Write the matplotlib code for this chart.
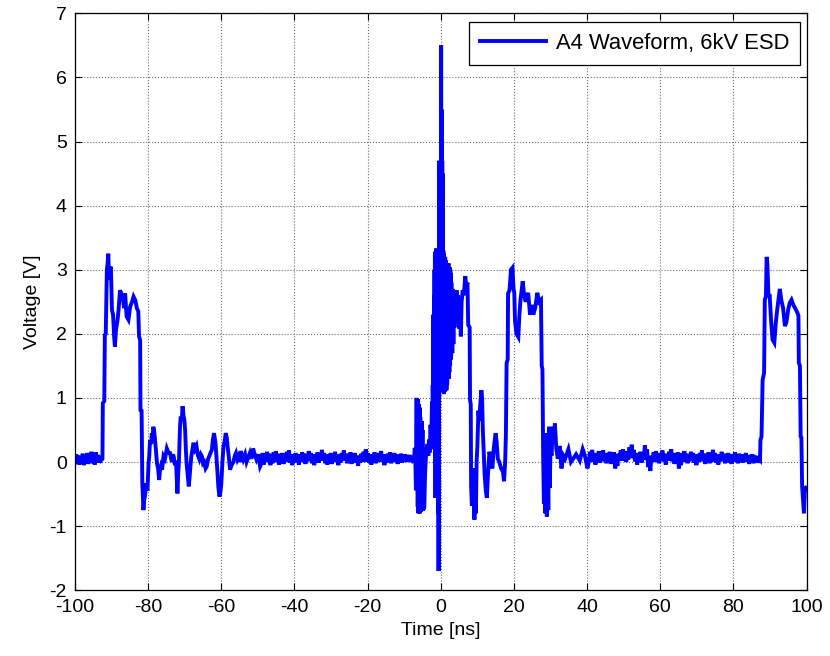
import numpy as np
import matplotlib
matplotlib.use("Agg")
import matplotlib.pyplot as plt

plt.rcParams['font.family'] = ['Liberation Sans', 'DejaVu Sans']
plt.rcParams['axes.unicode_minus'] = False

# ---- waveform data (time in ns, voltage in V) ----
# quiet lead-in, sampled every 0.3 ns from -100 ns
lead_start = -100.0
lead_step = 0.3
lead_v = [-0.01, 0.12, -0.02, 0.10, -0.04, 0.08, 0.00, 0.13, -0.05, 0.09,
          0.00, 0.14, -0.03, 0.11, 0.01, 0.16, -0.02, 0.12, -0.04, 0.15,
          0.02, 0.11, -0.01, 0.09, 0.03]

# first pulse
pulse1_t = [-92.5, -92.4, -92.0, -91.85, -91.6, -91.3, -91.1, -90.9, -90.7, -90.5,
            -90.2, -89.9, -89.6, -89.3, -89.1, -88.8, -88.4, -88.1, -87.7, -87.3,
            -86.9, -86.6, -86.3, -85.9, -85.4, -84.9, -84.4, -84.0, -83.5, -83.1,
            -82.7, -82.5, -82.2, -82.1, -81.8, -81.6, -81.3, -81.1, -80.9]
pulse1_v = [0.05, 0.92, 0.95, 1.98, 2.00, 2.99, 3.10, 3.25, 2.84, 3.00,
            3.05, 2.37, 2.30, 1.95, 1.80, 2.06, 2.20, 2.37, 2.68, 2.62,
            2.55, 2.40, 2.63, 2.27, 2.22, 2.43, 2.50, 2.58, 2.52, 2.40,
            2.35, 1.96, 1.90, 0.81, 0.80, -0.33, -0.75, -0.60, -0.54]

# ringing after the first pulse
ring1_t = [-80.5, -80.2, -79.9, -79.7, -79.5, -79.2, -79.0, -78.8, -78.6, -78.4,
           -78.2, -77.9, -77.6, -77.3, -77.0, -76.8, -76.5, -76.2, -75.8, -75.4,
           -74.9, -74.5, -74.0, -73.7, -73.5, -73.2, -73.0, -72.7, -72.4, -72.2,
           -72.0, -71.8, -71.6, -71.3, -71.1, -70.8, -70.6, -70.3, -70.1, -69.9,
           -69.7, -69.5, -69.2, -68.9, -68.7, -68.5, -68.2, -67.9, -67.6, -67.2,
           -66.8, -66.4, -66.0, -65.6, -65.3, -65.0, -64.7, -64.3, -64.0, -63.6,
           -63.3, -62.9, -62.6, -62.3, -62.0, -61.8, -61.6, -61.3, -61.1, -60.8,
           -60.5, -60.2, -60.0, -59.7, -59.4, -59.1, -58.8, -58.5, -58.3, -57.9,
           -57.6, -57.2, -56.7, -56.3, -56.0, -55.6, -55.3, -55.0, -54.7, -54.3,
           -54.0, -53.5, -53.1, -52.6, -52.2, -51.8, -51.3, -50.8, -50.4, -49.9,
           -49.4]
ring1_v = [-0.33, -0.45, -0.02, 0.10, 0.34, 0.28, 0.45, 0.38, 0.55, 0.50,
           0.39, 0.20, -0.02, -0.10, -0.28, -0.15, -0.07, -0.12, 0.09, 0.05,
           0.21, 0.15, 0.14, 0.05, 0.00, 0.12, 0.08, -0.05, 0.02, -0.25,
           -0.49, -0.20, 0.00, 0.55, 0.71, 0.65, 0.87, 0.71, 0.65, 0.50,
           0.20, -0.02, -0.20, -0.38, -0.25, -0.10, 0.09, 0.20, 0.30, 0.20,
           0.25, 0.10, 0.04, 0.12, 0.09, -0.02, 0.00, -0.10, -0.07, 0.05,
           0.09, 0.15, 0.19, 0.35, 0.45, 0.38, 0.30, 0.05, -0.12, -0.40,
           -0.54, -0.45, -0.33, 0.00, 0.25, 0.32, 0.45, 0.38, 0.25, 0.05,
           -0.12, -0.05, 0.00, 0.10, 0.14, 0.04, 0.08, 0.00, 0.17, 0.10,
           0.04, 0.12, 0.00, 0.08, 0.14, 0.05, 0.21, 0.10, 0.04, 0.12,
           -0.07]

# quiet stretch before the discharge, sampled every 0.3 ns
quiet1_start = -49.0
quiet1_step = 0.3
quiet1_v = [-0.02, 0.14, -0.04, 0.12, 0.00, 0.16, 0.01, 0.13, -0.05, 0.10,
            -0.02, 0.15, 0.02, 0.17, 0.00, 0.11, -0.04, 0.13, 0.01, 0.14,
            -0.03, 0.11, 0.00, 0.16, 0.03, 0.18, -0.01, 0.12, -0.05, 0.09,
            -0.01, 0.14, 0.01, 0.12, -0.04, 0.11, 0.00, 0.15, 0.02, 0.13,
            -0.03, 0.10, 0.01, 0.17, 0.04, 0.14, -0.02, 0.12, -0.05, 0.11,
            0.00, 0.15, -0.01, 0.13, 0.02, 0.19, 0.03, 0.14, -0.02, 0.10,
            -0.04, 0.12, 0.01, 0.14, -0.03, 0.11, 0.00, 0.16, 0.01, 0.12,
            -0.05, 0.09, -0.01, 0.14, 0.03, 0.18, 0.02, 0.13, -0.02, 0.11,
            0.00, 0.15, -0.03, 0.12, 0.01, 0.14, -0.01, 0.10, -0.06, 0.09,
            -0.01, 0.13, 0.02, 0.16, 0.00, 0.20, 0.04, 0.14, -0.01, 0.11,
            -0.04, 0.12, 0.01, 0.15, -0.02, 0.11, 0.00, 0.14, 0.02, 0.17,
            0.00, 0.12, -0.05, 0.10, -0.01, 0.13, 0.01, 0.15, -0.02, 0.11,
            0.00, 0.14, 0.02, 0.12, -0.03, 0.10, 0.00, 0.13, -0.01, 0.11,
            0.01, 0.12, 0.00, 0.10, 0.02, 0.11, 0.00, 0.09, 0.03]

# ESD burst, second pulse and ringing
burst_t = [-7.3, -7.1, -6.9, -6.8, -6.7, -6.6, -6.5, -6.4, -6.3, -6.2,
           -6.1, -6.0, -5.9, -5.8, -5.7, -5.6, -5.5, -5.4, -5.3, -5.2,
           -5.1, -5.0, -4.9, -4.8, -4.7, -4.5, -4.3, -4.1, -3.9, -3.6,
           -3.4, -3.2, -3.0, -2.8, -2.6, -2.4, -2.3, -2.2, -2.1, -2.0,
           -1.95, -1.9, -1.85, -1.8, -1.75, -1.7, -1.65, -1.6, -1.55, -1.5,
           -1.45, -1.4, -1.35, -1.3, -1.25, -1.2, -1.15, -1.1, -1.05, -1.0,
           -0.95, -0.9, -0.85, -0.8, -0.75, -0.7, -0.65, -0.6, -0.55, -0.5,
           -0.45, -0.4, -0.35, -0.3, -0.25, -0.2, -0.15, -0.1, -0.05, 0.0,
           0.05, 0.1, 0.15, 0.2, 0.25, 0.3, 0.35, 0.4, 0.45, 0.5,
           0.55, 0.6, 0.65, 0.7, 0.75, 0.8, 0.85, 0.9, 0.95, 1.0,
           1.05, 1.1, 1.15, 1.2, 1.25, 1.3, 1.35, 1.4, 1.45, 1.5,
           1.55, 1.6, 1.65, 1.7, 1.75, 1.8, 1.85, 1.9, 1.95, 2.0,
           2.05, 2.1, 2.15, 2.2, 2.25, 2.3, 2.35, 2.4, 2.45, 2.5,
           2.55, 2.6, 2.65, 2.7, 2.75, 2.8, 2.85, 2.9, 2.95, 3.0,
           3.15, 3.3, 3.45, 3.6, 3.75, 3.9, 4.1, 4.3, 4.5, 4.7,
           4.9, 5.1, 5.3, 5.5, 5.7, 6.0, 6.3, 6.7, 7.0, 7.3,
           7.5, 7.9, 8.0, 8.2, 8.3, 8.5, 8.7, 8.8, 9.0, 9.2,
           9.4, 9.6, 9.8, 10.0, 10.3, 10.5, 10.8, 11.1, 11.3, 11.5,
           11.8, 12.0, 12.3, 12.6, 12.9, 13.3, 13.7, 14.1, 14.5, 15.0,
           15.3, 15.6, 16.0, 16.5, 17.0, 17.3, 17.6, 17.8, 18.0, 18.3,
           18.4, 18.8, 19.2, 19.6, 19.9, 20.1, 20.3, 20.7, 21.2, 21.5,
           21.8, 22.4, 22.8, 23.2, 23.9, 24.4, 24.9, 25.3, 25.8, 26.4,
           26.9, 27.4, 27.6, 27.8, 28.0, 28.2, 28.4, 28.6, 28.8, 29.0,
           29.2, 29.4, 29.6, 29.8, 30.0, 30.3, 30.6, 30.9, 31.2, 31.6,
           32.0, 32.5, 33.0, 33.5, 34.0, 34.9, 35.6, 36.2, 37.0, 38.0,
           38.8, 39.4, 40.1]
burst_v = [0.05, 0.22, -0.10, -0.44, 0.30, 1.00, -0.20, 0.95, -0.70, 0.98,
           -0.80, 0.90, -0.75, 0.85, -0.80, 0.70, -0.78, 0.30, -0.70, 0.64,
           -0.74, 0.50, -0.76, 0.20, -0.74, -0.70, -0.20, 0.04, 0.20, 0.28,
           0.10, 0.35, 0.15, 0.58, 0.30, 0.94, 0.20, 1.20, 0.40, 2.30,
           0.60, 2.00, 0.30, 2.60, 0.90, 3.00, 0.50, 3.28, 0.20, 2.90,
           -0.56, 3.10, 0.00, 3.33, 0.40, 3.20, -0.30, 2.80, 0.20, 3.00,
           -0.50, 2.40, 0.00, 2.00, -0.80, 1.50, -0.30, -1.70, 0.80, 3.30,
           1.00, 4.70, 1.50, 4.20, 2.00, 4.40, 1.60, 3.80, 2.20, 4.47,
           2.80, 6.50, 3.00, 5.50, 2.00, 4.00, 1.50, 4.70, 1.30, 4.50,
           1.24, 3.50, 1.10, 3.30, 1.20, 3.20, 1.06, 3.25, 1.15, 3.15,
           1.30, 3.10, 1.10, 3.20, 1.25, 3.00, 1.12, 3.15, 1.30, 3.05,
           1.12, 3.10, 1.40, 3.00, 1.20, 3.05, 1.50, 3.10, 1.30, 2.95,
           1.45, 3.10, 1.30, 2.90, 1.60, 3.00, 1.40, 3.04, 1.55, 2.90,
           1.50, 3.00, 1.70, 2.85, 1.60, 2.95, 1.66, 2.80, 1.75, 2.70,
           1.70, 2.70, 1.84, 2.60, 2.10, 2.56, 2.20, 2.68, 2.40, 2.60,
           2.20, 2.08, 2.30, 1.96, 2.50, 2.68, 2.60, 2.90, 2.72, 2.80,
           2.14, 2.10, 0.97, 0.90, -0.38, -0.68, -0.10, -0.60, -0.20, -0.90,
           -0.30, -0.80, 0.00, 0.24, 0.80, 0.64, 0.90, 1.12, 1.00, 0.50,
           0.10, -0.20, -0.44, -0.56, -0.20, 0.16, 0.05, -0.10, 0.22, 0.45,
           0.30, 0.05, 0.00, -0.10, -0.15, -0.30, 0.00, 0.40, 1.54, 1.60,
           2.63, 2.68, 3.00, 3.03, 2.70, 2.64, 2.20, 2.00, 1.95, 2.30,
           2.53, 2.82, 2.60, 2.50, 2.64, 2.30, 2.45, 2.30, 2.40, 2.64,
           2.50, 2.53, 1.50, 1.45, 0.08, -0.65, 0.30, -0.80, 0.45, -0.85,
           0.20, -0.75, 0.55, -0.40, 0.20, 0.10, 0.55, 0.30, 0.60, 0.20,
           0.05, 0.25, -0.10, 0.10, 0.05, 0.20, 0.00, 0.05, 0.12, 0.02,
           0.20, 0.10, -0.10]

# quiet stretch after the second pulse, sampled every 0.3 ns
quiet2_start = 40.5
quiet2_step = 0.3
quiet2_v = [0.01, 0.16, 0.03, 0.19, 0.00, 0.14, -0.04, 0.12, 0.02, 0.17,
            -0.01, 0.15, 0.04, 0.18, 0.01, 0.13, -0.02, 0.14, 0.03, 0.16,
            -0.03, 0.12, 0.01, 0.15, -0.10, 0.08, -0.06, 0.13, 0.03, 0.18,
            0.02, 0.20, 0.05, 0.17, 0.00, 0.14, 0.04, 0.23, 0.08, 0.27,
            0.06, 0.19, 0.01, 0.14, -0.04, 0.12, 0.02, 0.16, -0.01, 0.13,
            0.03, 0.26, 0.10, 0.20, -0.08, 0.06, -0.14, 0.10, 0.01, 0.15,
            0.00, 0.17, 0.04, 0.14, -0.02, 0.12, 0.03, 0.18, 0.01, 0.13,
            -0.04, 0.11, 0.02, 0.16, 0.05, 0.20, 0.01, 0.14, -0.03, 0.12,
            0.00, 0.15, -0.10, 0.07, -0.05, 0.14, 0.02, 0.17, 0.00, 0.13,
            -0.02, 0.11, 0.01, 0.16, 0.04, 0.14, -0.01, 0.12, -0.05, 0.10,
            0.00, 0.14, 0.03, 0.18, 0.01, 0.13, -0.03, 0.11, 0.02, 0.15,
            -0.02, 0.12, 0.00, 0.19, 0.04, 0.14, -0.01, 0.10, -0.04, 0.12,
            0.01, 0.16, 0.03, 0.13, -0.02, 0.11, 0.01, 0.14, -0.01, 0.12,
            -0.03, 0.10, 0.00, 0.15, 0.02, 0.12, -0.02, 0.13, 0.01, 0.11,
            -0.01, 0.12, 0.02, 0.14, 0.00, 0.10, -0.03, 0.11, 0.01, 0.12,
            -0.02, 0.10, 0.00, 0.09, -0.01, 0.05]

# third pulse, cut off at the right edge
pulse3_t = [87.3, 87.4, 87.7, 88.0, 88.4, 88.6, 88.9, 89.1, 89.3, 89.6,
            89.9, 90.3, 90.7, 91.2, 91.6, 92.0, 92.7, 93.1, 93.6, 94.1,
            94.5, 95.0, 95.4, 95.9, 96.4, 96.9, 97.5, 97.8, 97.9, 98.2,
            98.4, 98.6, 98.8, 99.1, 99.3, 99.6, 99.8, 100.0]
pulse3_v = [0.03, 0.34, 0.40, 1.28, 1.39, 2.53, 2.58, 3.20, 3.10, 2.58,
            2.62, 2.22, 1.91, 1.86, 2.17, 2.38, 2.70, 2.53, 2.40, 2.12,
            2.18, 2.38, 2.48, 2.53, 2.45, 2.40, 2.33, 2.28, 1.55, 1.50,
            0.40, 0.38, -0.38, -0.64, -0.80, -0.38, -0.45, -0.40]

t = np.concatenate([
    lead_start + lead_step * np.arange(len(lead_v)),
    pulse1_t,
    ring1_t,
    quiet1_start + quiet1_step * np.arange(len(quiet1_v)),
    burst_t,
    quiet2_start + quiet2_step * np.arange(len(quiet2_v)),
    pulse3_t,
])
v = np.concatenate([lead_v, pulse1_v, ring1_v, quiet1_v, burst_v, quiet2_v, pulse3_v])

# ---- figure ----
fig = plt.figure(figsize=(8.3, 6.56), dpi=100)
ax = fig.add_axes([0.0904, 0.1003, 0.8813, 0.8794])

ax.plot(t, v, color='#0000ff', linewidth=2.8, solid_joinstyle='miter',
        label='A4 Waveform, 6kV ESD')

ax.set_xlim(-100, 100)
ax.set_ylim(-2, 7)
ax.set_xticks(np.arange(-100, 101, 20))
ax.set_yticks(np.arange(-2, 8, 1))

ax.grid(True, linestyle=':', color='#6f6f6f', linewidth=0.8)
ax.set_axisbelow(True)
ax.tick_params(direction='in', top=True, right=True, length=5, width=0.8,
               labelsize=14, pad=6, colors='black')
for s in ax.spines.values():
    s.set_linewidth(0.9)
    s.set_color('black')

ax.set_xlabel('Time [ns]', fontsize=14, labelpad=5)
ax.set_ylabel('Voltage [V]', fontsize=14, labelpad=6)

leg = ax.legend(loc='upper right', bbox_to_anchor=(0.991, 0.985),
                borderaxespad=0, fancybox=False, framealpha=1,
                edgecolor='black', fontsize=15.8, handlelength=3.0,
                borderpad=0.5, handletextpad=0.45)
leg.get_frame().set_linewidth(0.9)

fig.savefig('out.png', dpi=100, facecolor='white')
